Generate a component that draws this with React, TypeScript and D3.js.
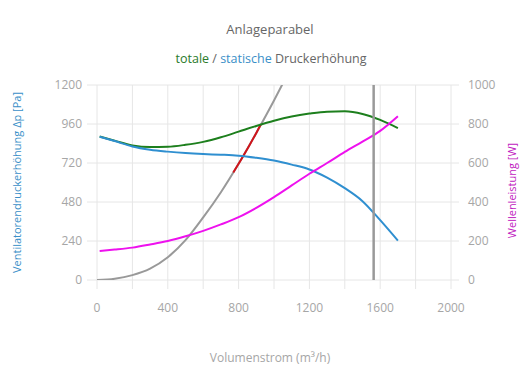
import React, { useEffect, useRef } from 'react';
import * as d3 from 'd3';

// Volumenstrom (m³/h) und Kurven
const staticQ = [15, 100, 200, 300, 400, 500, 600, 700, 800, 900, 1000, 1100, 1200, 1300, 1400, 1500, 1600, 1700];
const staticPa = [882, 855, 822, 802, 790, 781, 775, 771, 765, 752, 735, 710, 680, 630, 565, 485, 368, 242];

const totalQ = [15, 100, 200, 300, 400, 500, 600, 700, 800, 900, 1000, 1100, 1200, 1300, 1400, 1500, 1600, 1700];
const totalPa = [883, 857, 828, 818, 820, 832, 850, 878, 913, 948, 980, 1006, 1024, 1036, 1038, 1022, 985, 935];

const powerQ = [15, 100, 200, 300, 400, 500, 600, 700, 800, 900, 1000, 1100, 1200, 1300, 1400, 1500, 1600, 1700];
const powerW = [149, 156, 166, 182, 200, 224, 252, 285, 322, 370, 425, 485, 545, 600, 657, 710, 765, 840];

const systemQ = [0, 100, 200, 300, 400, 500, 600, 700, 800, 900, 1000, 1050, 1080];
const systemPa = [0, 8, 30, 70, 140, 245, 385, 540, 715, 905, 1105, 1210, 1275];

const rangeQ = [770, 800, 850, 900, 925];
const rangePa = [662, 715, 808, 905, 957];

const operatingQ = 1563;

const xTicks = [0, 400, 800, 1200, 1600, 2000];
const xGrid = [0, 200, 400, 600, 800, 1000, 1200, 1400, 1600, 1800, 2000];
const yLeftTicks = [0, 240, 480, 720, 960, 1200];
const yRightTicks = [0, 200, 400, 600, 800, 1000];

const width = 530;
const height = 390;
const font = '"Open Sans", "Noto Sans", sans-serif';

const App = () => {
    const ref = useRef<SVGSVGElement>(null);

    useEffect(() => {
        const margin = { top: 85, right: 79, bottom: 110, left: 97 };
        const svg = d3.select(ref.current);
        svg.selectAll('*').remove();

        const x = d3.scaleLinear().domain([0, 2000]).range([margin.left, width - margin.right]);
        const yL = d3.scaleLinear().domain([0, 1200]).range([height - margin.bottom, margin.top]);
        const yR = d3.scaleLinear().domain([0, 1000]).range([height - margin.bottom, margin.top]);

        svg.append('defs').append('clipPath').attr('id', 'plot')
            .append('rect')
            .attr('x', margin.left).attr('y', margin.top)
            .attr('width', x(2000) - x(0)).attr('height', yL(0) - yL(1200));

        // Gitter
        svg.append('g').selectAll('line').data(xGrid).join('line')
            .attr('x1', (d) => x(d)).attr('x2', (d) => x(d))
            .attr('y1', yL(1200)).attr('y2', yL(0) + 9)
            .attr('stroke', '#e6e6e6');
        svg.append('g').selectAll('line').data(yLeftTicks).join('line')
            .attr('x1', x(0) - 10).attr('x2', x(2000) + 8)
            .attr('y1', (d) => yL(d)).attr('y2', (d) => yL(d))
            .attr('stroke', '#e6e6e6');

        // Achsenbeschriftung
        svg.append('g').selectAll('text').data(xTicks).join('text')
            .attr('x', (d) => x(d)).attr('y', yL(0) + 32)
            .attr('text-anchor', 'middle')
            .attr('fill', '#a6a6a6').style('font-size', '12px')
            .text((d) => d);
        svg.append('g').selectAll('text').data(yLeftTicks).join('text')
            .attr('x', x(0) - 15).attr('y', (d) => yL(d) + 4)
            .attr('text-anchor', 'end')
            .attr('fill', '#a6a6a6').style('font-size', '12px')
            .text((d) => d);
        svg.append('g').selectAll('text').data(yRightTicks).join('text')
            .attr('x', x(2000) + 17).attr('y', (d) => yR(d) + 4)
            .attr('text-anchor', 'start')
            .attr('fill', '#a6a6a6').style('font-size', '12px')
            .text((d) => d);

        const plot = svg.append('g').attr('clip-path', 'url(#plot)');
        const drawLine = (qs: number[], vs: number[], y: d3.ScaleLinear<number, number>, color: string, w = 2) => {
            const line = d3.line<number>()
                .x((_, i) => x(qs[i]))
                .y((d) => y(d))
                .curve(d3.curveMonotoneX);
            plot.append('path')
                .datum(vs)
                .attr('fill', 'none')
                .attr('stroke', color)
                .attr('stroke-width', w)
                .attr('d', line);
        };

        drawLine(systemQ, systemPa, yL, '#999999');
        drawLine(rangeQ, rangePa, yL, '#d0141b');
        drawLine(totalQ, totalPa, yL, '#1d7f1d');
        drawLine(staticQ, staticPa, yL, '#2f8fd0');
        drawLine(powerQ, powerW, yR, '#ee11ee');

        // Betriebspunkt
        svg.append('line')
            .attr('x1', x(operatingQ)).attr('x2', x(operatingQ))
            .attr('y1', yL(1200)).attr('y2', yL(0))
            .attr('stroke', '#999999').attr('stroke-width', 2.5);

        // Titel
        svg.append('text')
            .attr('x', 270).attr('y', 34)
            .attr('text-anchor', 'middle')
            .attr('fill', '#666').style('font-size', '13px')
            .text('Anlageparabel');
        const sub = svg.append('text')
            .attr('x', 271).attr('y', 63)
            .attr('text-anchor', 'middle')
            .style('font-size', '12.5px');
        sub.append('tspan').attr('fill', '#2a7a2a').text('totale');
        sub.append('tspan').attr('fill', '#666').text(' / ');
        sub.append('tspan').attr('fill', '#3a8fc8').text('statische');
        sub.append('tspan').attr('fill', '#666').text(' Druckerhöhung');

        svg.append('text')
            .attr('x', 270).attr('y', 362)
            .attr('text-anchor', 'middle')
            .attr('fill', '#a6a6a6').style('font-size', '12px')
            .text('Volumenstrom (m³/h)');

        svg.append('text')
            .attr('transform', `translate(21,${(yL(0) + yL(1200)) / 2}) rotate(-90)`)
            .attr('text-anchor', 'middle')
            .attr('fill', '#3a8fc8').style('font-size', '11px')
            .text('Ventilatorendruckerhöhung Δp [Pa]');
        svg.append('text')
            .attr('transform', `translate(516,${(yL(0) + yL(1200)) / 2 + 8}) rotate(-90)`)
            .attr('text-anchor', 'middle')
            .attr('fill', '#c020c0').style('font-size', '11px')
            .text('Wellenleistung [W]');
    }, []);

    return (
        <svg
            ref={ref}
            width={width}
            height={height}
            style={{ position: 'absolute', left: 0, top: 0, fontFamily: font, background: '#fff' }}
        />
    );
};

export default App;
